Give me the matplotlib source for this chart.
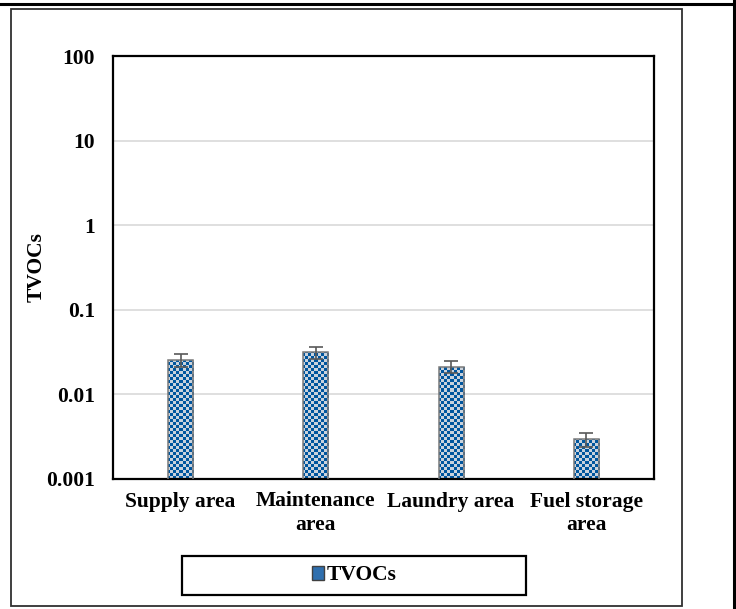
import numpy as np
import matplotlib
matplotlib.use("Agg")
import matplotlib.pyplot as plt
from matplotlib.patches import Rectangle
from matplotlib.colors import ListedColormap
from matplotlib.lines import Line2D

plt.rcParams['font.family'] = ['Liberation Serif', 'DejaVu Serif']
plt.rcParams['font.weight'] = 'bold'

areas = ['Supply area', 'Maintenance\narea', 'Laundry area', 'Fuel storage\narea']
tvocs = [0.0255, 0.0315, 0.0213, 0.00297]
tvocs_err = [0.0043, 0.0051, 0.0035, 0.00056]
yticks = [0.001, 0.01, 0.1, 1, 10, 100]
ytick_labels = ['0.001', '0.01', '0.1', '1', '10', '100']

fig = plt.figure(figsize=(7.36, 6.09), dpi=100)
ax = fig.add_axes([113/736, 1-479/609, 541/736, 423/609])
ax.set_yscale('log')

x = np.arange(len(areas))
bars = ax.bar(x, tvocs, width=0.185, facecolor='none',
              edgecolor='#7a7a7a', linewidth=1.1, zorder=3)
ax.errorbar(x, tvocs, yerr=tvocs_err, fmt='none', ecolor='#595959',
            elinewidth=1.2, capsize=5, capthick=1.2, zorder=5)

# checker fill, clipped to each bar
ny, nx = 141, 180
checker = (np.add.outer(np.arange(ny), np.arange(nx)) % 2).astype(float)
cmap = ListedColormap(['#00569e', '#c9d2dc'])
for b in bars:
    im = ax.imshow(checker, cmap=cmap, extent=(0, 1, 0, 1), transform=ax.transAxes,
                   interpolation='nearest', aspect='auto', zorder=2)
    im.set_clip_path(b)

ax.set_ylim(0.001, 100)
ax.set_xlim(-0.5, len(areas) - 0.5)
ax.set_yticks(yticks)
ax.set_yticklabels(ytick_labels)
ax.yaxis.set_minor_locator(plt.NullLocator())
ax.set_xticks(x)
ax.set_xticklabels(areas, fontsize=15.5, fontweight='bold', linespacing=1.25)
ax.tick_params(axis='y', labelsize=15.5, length=0, pad=13)
ax.tick_params(axis='x', length=0, pad=9)
ax.grid(axis='y', color='#d9d9d9', linewidth=1.2, zorder=0)
for s in ax.spines.values():
    s.set_linewidth(1.6)
    s.set_color('black')
ax.set_ylabel('TVOCs', fontsize=15.5, fontweight='bold')
ax.yaxis.set_label_coords(-66/541, 0.5)

# legend box
fig.add_artist(Rectangle((182/736, 1-595/609), 344/736, 39/609, transform=fig.transFigure,
                         fill=False, edgecolor='black', linewidth=1.6))
handle = Rectangle((0, 0), 1, 1, facecolor='#2f6fae', edgecolor='#404040')
fig.legend([handle], ['TVOCs'], loc='center', bbox_to_anchor=(354/736, 1-575.5/609),
           frameon=False, fontsize=15.5, handlelength=0.6, handleheight=0.6,
           handletextpad=0.1)

# outer frames
fig.add_artist(Rectangle((11/736, 1-606/609), 671/736, 597/609, transform=fig.transFigure,
                         fill=False, edgecolor='#303030', linewidth=1.3))
fig.add_artist(Line2D([0, 1], [1-4/609, 1-4/609], transform=fig.transFigure,
                      color='black', linewidth=2.2))
fig.add_artist(Line2D([733.5/736, 733.5/736], [0, 1], transform=fig.transFigure,
                      color='black', linewidth=2.2))

fig.savefig('out.png', dpi=100)
